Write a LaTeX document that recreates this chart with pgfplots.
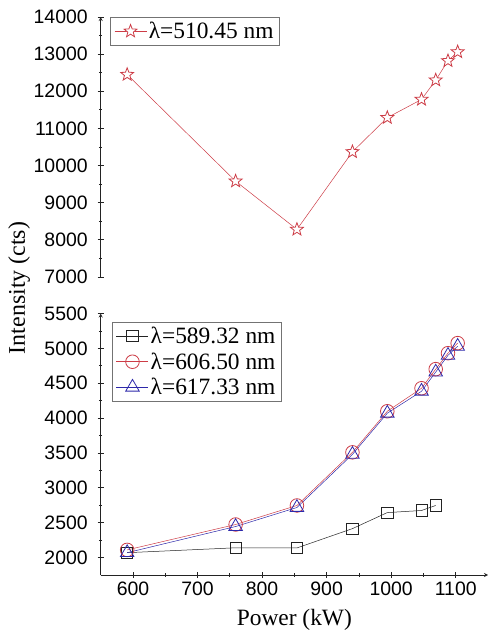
\documentclass[border=0pt]{standalone}
\usepackage{pgfplots}
\pgfplotsset{compat=1.18}
\usepackage{fontspec}
\setmainfont{Liberation Serif}
\newfontfamily\arialf{Liberation Sans}
\definecolor{myred}{RGB}{205,60,70}
\definecolor{myblue}{RGB}{45,40,170}
\definecolor{mygray}{RGB}{35,35,35}

\pgfdeclareplotmark{ostar}{%
  \pgfpathmoveto{\pgfpointpolar{90}{\pgfplotmarksize}}%
  \pgfpathlineto{\pgfpointpolar{126}{0.42\pgfplotmarksize}}%
  \pgfpathlineto{\pgfpointpolar{162}{\pgfplotmarksize}}%
  \pgfpathlineto{\pgfpointpolar{198}{0.42\pgfplotmarksize}}%
  \pgfpathlineto{\pgfpointpolar{234}{\pgfplotmarksize}}%
  \pgfpathlineto{\pgfpointpolar{270}{0.42\pgfplotmarksize}}%
  \pgfpathlineto{\pgfpointpolar{306}{\pgfplotmarksize}}%
  \pgfpathlineto{\pgfpointpolar{342}{0.42\pgfplotmarksize}}%
  \pgfpathlineto{\pgfpointpolar{18}{\pgfplotmarksize}}%
  \pgfpathlineto{\pgfpointpolar{54}{0.42\pgfplotmarksize}}%
  \pgfpathclose
  \pgfusepathqfillstroke}

\pgfplotstableread{
x y
591 12450
759 9580
854 8280
940 10370
994 11290
1047 11780
1069 12300
1088 12820
1103 13060
}\topdata

\pgfplotstableread{
x y
591 2070
759 2140
854 2138
940 2415
994 2645
1047 2675
1069 2747
}\sqdata

\pgfplotstableread{
x y
591 2110
759 2474
854 2747
940 3509
994 4098
1047 4428
1069 4702
1088 4931
1103 5075
}\circdata

\pgfplotstableread{
x y
591 2070
759 2445
854 2718
940 3480
994 4070
1047 4385
1069 4660
1088 4900
1103 5030
}\tridata

\begin{document}
\begin{tikzpicture}
\useasboundingbox (-100.7bp,-64bp) rectangle (387.3bp,575bp);
\pgfplotsset{
  common/.style={
    scale only axis, width=387.3bp,
    xmin=550, xmax=1150,
    axis line style={-, line width=0.8bp, draw=mygray},
    tick align=outside,
    major tick length=6bp, minor tick length=3.5bp,
    every tick/.style={draw=mygray, line width=0.8bp},
    ticklabel style={font=\fontsize{19.5}{21}\arialf},
    yticklabel style={xshift=-6.5bp},
    scaled y ticks=false,
    /pgf/number format/assume math mode=true,
    /pgf/number format/1000 sep={},
    legend style={font=\fontsize{23.5}{27}\selectfont, draw=black!55, line width=0.6bp, inner xsep=4bp, inner ysep=3bp, anchor=north west, row sep=3.5bp},
    legend cell align=left,
    legend image code/.code={\draw[mark repeat=2,mark phase=2] plot coordinates {(0bp,0bp) (16bp,0bp) (32bp,0bp)};},
    clip=false,
  }
}
\begin{axis}[common, at={(0,298bp)}, anchor=south west, height=260bp,
  ymin=7000, ymax=14000, ytick={7000,8000,...,14000}, minor y tick num=1,
  axis x line=none, axis y line=left,
  legend style={at={(0.024,1)}}]
\addplot[myred, line width=0.5bp, mark=ostar, mark size=6.8bp,
  mark options={fill=white, line width=0.8bp, solid}] table[x=x,y=y] {\topdata};
\addlegendentry{λ=510.45 nm}
\end{axis}
\begin{axis}[common, at={(0,0)}, anchor=south west, height=261.5bp,
  ymin=1750, ymax=5500, ytick={2000,2500,...,5500}, minor y tick num=1,
  xtick={600,700,...,1100}, minor x tick num=1,
  axis x line=bottom, axis y line=left,
  legend style={at={(0.029,1)}, yshift=-8.5bp}]
\addplot[mygray, line width=0.5bp, mark=square, mark size=5.6bp,
  mark options={fill=white, line width=0.8bp, solid}] table[x=x,y=y] {\sqdata};
\addlegendentry{λ=589.32 nm}
\addplot[myred, line width=0.5bp, mark=o, mark size=6.8bp,
  mark options={fill=none, line width=0.8bp, solid}] table[x=x,y=y] {\circdata};
\addlegendentry{λ=606.50 nm}
\addplot[myblue, line width=0.5bp, mark=triangle, mark size=7.8bp,
  mark options={fill=none, line width=0.8bp, solid}] table[x=x,y=y] {\tridata};
\addlegendentry{λ=617.33 nm}
\end{axis}
\node[anchor=base, font=\fontsize{23.5}{26}\selectfont] at (193.65bp,-50bp) {Power (kW)};
\node[anchor=base, rotate=90, font=\fontsize{24}{26}\selectfont] at (-75.7bp,287bp) {Intensity (cts)};
\end{tikzpicture}
\end{document}
